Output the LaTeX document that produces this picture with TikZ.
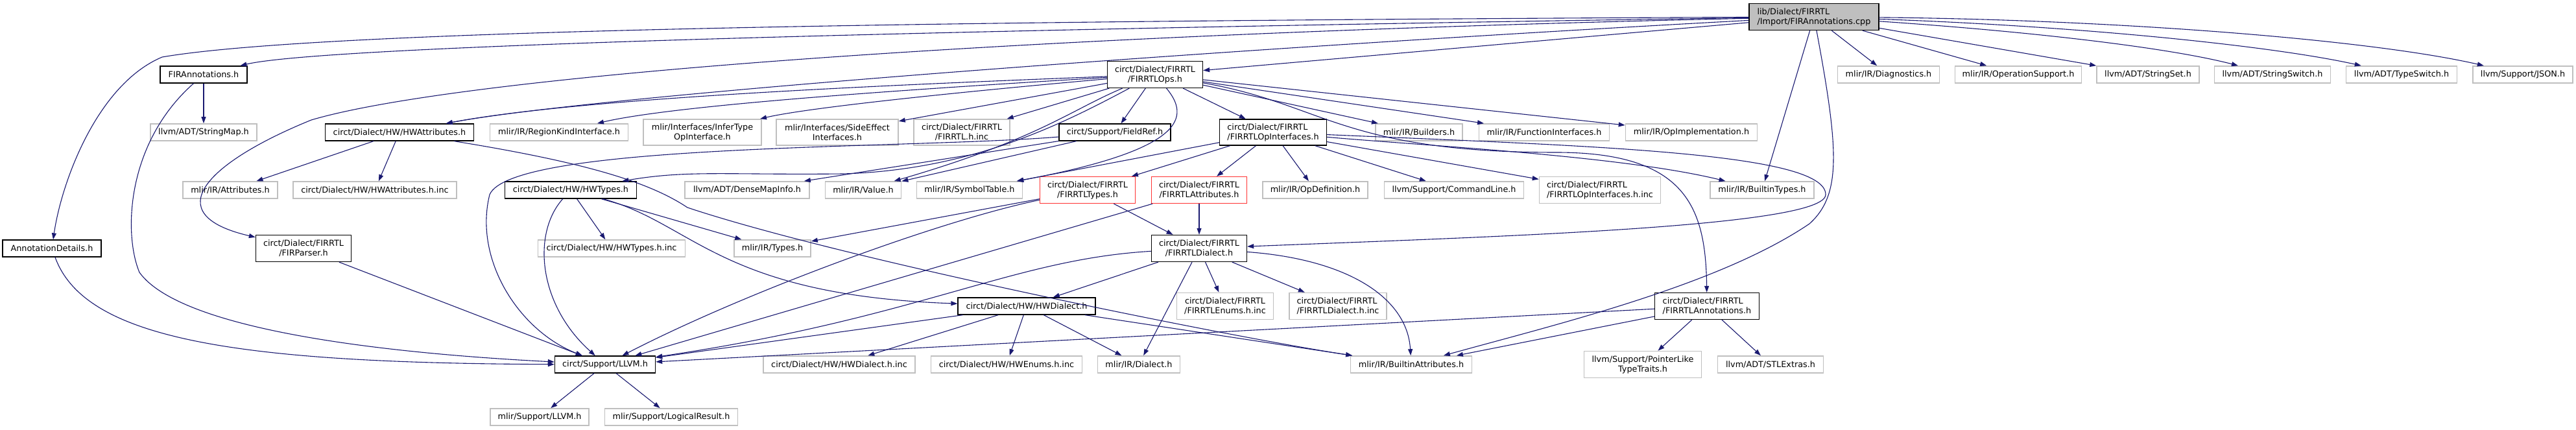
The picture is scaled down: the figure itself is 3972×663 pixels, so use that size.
\documentclass[tikz,border=0pt]{standalone}
\usepackage{fontspec}
\newfontfamily\graphfont{DejaVu Sans}
\usetikzlibrary{arrows.meta}
\definecolor{grey75}{HTML}{BFBFBF}
\definecolor{edgeblue}{HTML}{191970}
\definecolor{cutred}{HTML}{FF3333}

\begin{document}
\begin{tikzpicture}[x=1pt,y=-1pt,
  file/.style={rectangle,inner sep=0pt,minimum height=26,align=center,fill=white,
    line width=1.3pt,font=\graphfont\fontsize{12.8}{15}\selectfont},
  docfile/.style={file,draw=black},
  extfile/.style={file,draw=grey75,line width=1.6pt},
  cutfile/.style={file,draw=cutred},
  rootfile/.style={file,draw=black,fill=grey75,align=left},
  dep/.style={draw=edgeblue,line width=1.1pt,-{Triangle[length=10pt,width=7pt]}}]
\useasboundingbox (0,0) rectangle (3972,663);

% the file itself
\node[rootfile,minimum width=200,minimum height=41] (root) at (2797,26) {lib/Dialect/FIRRTL\\/Import/FIRAnnotations.cpp};

% first level
\node[docfile,minimum width=134] (firann) at (314,115) {FIRAnnotations.h};
\node[docfile,minimum width=147,minimum height=41] (firops) at (1781,115) {circt/Dialect/FIRRTL\\/FIRRTLOps.h};
\node[extfile,minimum width=157] (diag) at (2912,115) {mlir/IR/Diagnostics.h};
\node[extfile,minimum width=195] (opsupport) at (3112,115) {mlir/IR/OperationSupport.h};
\node[extfile,minimum width=158] (strset) at (3312,115) {llvm/ADT/StringSet.h};
\node[extfile,minimum width=179] (strswitch) at (3504,115) {llvm/ADT/StringSwitch.h};
\node[extfile,minimum width=171] (typeswitch) at (3703,115) {llvm/ADT/TypeSwitch.h};
\node[extfile,minimum width=154] (json) at (3890,115) {llvm/Support/JSON.h};

% second level
\node[extfile,minimum width=164] (strmap) at (314,204) {llvm/ADT/StringMap.h};
\node[docfile,minimum width=229] (hwattr) at (616,204) {circt/Dialect/HW/HWAttributes.h};
\node[extfile,minimum width=213] (regkind) at (862,204) {mlir/IR/RegionKindInterface.h};
\node[extfile,minimum width=182,minimum height=40] (infertype) at (1083,204) {mlir/Interfaces/InferType\\OpInterface.h};
\node[extfile,minimum width=188,minimum height=40] (sideeffect) at (1291,204) {mlir/Interfaces/SideEffect\\Interfaces.h};
\node[extfile,minimum width=148,minimum height=40] (firrtlinc) at (1483,204) {circt/Dialect/FIRRTL\\/FIRRTL.h.inc};
\node[docfile,minimum width=172] (fieldref) at (1719,204) {circt/Support/FieldRef.h};
\node[docfile,minimum width=165,minimum height=40,align=left] (opif) at (1963,204) {circt/Dialect/FIRRTL\\/FIRRTLOpInterfaces.h};
\node[extfile,minimum width=134] (builders) at (2188,204) {mlir/IR/Builders.h};
\node[extfile,minimum width=201] (funcif) at (2381,204) {mlir/IR/FunctionInterfaces.h};
\node[extfile,minimum width=203] (opimpl) at (2608,204) {mlir/IR/OpImplementation.h};

% third level
\node[extfile,minimum width=146] (attrs) at (355,293) {mlir/IR/Attributes.h};
\node[extfile,minimum width=252] (hwattrinc) at (578,293) {circt/Dialect/HW/HWAttributes.h.inc};
\node[docfile,minimum width=203] (hwtypes) at (880,293) {circt/Dialect/HW/HWTypes.h};
\node[extfile,minimum width=192] (densemap) at (1152,293) {llvm/ADT/DenseMapInfo.h};
\node[extfile,minimum width=117] (value) at (1331,293) {mlir/IR/Value.h};
\node[extfile,minimum width=163] (symtab) at (1495,293) {mlir/IR/SymbolTable.h};
\node[cutfile,minimum width=147,minimum height=41] (firtypes) at (1677,293) {circt/Dialect/FIRRTL\\/FIRRTLTypes.h};
\node[cutfile,minimum width=147,minimum height=41] (firattrs) at (1849,293) {circt/Dialect/FIRRTL\\/FIRRTLAttributes.h};
\node[extfile,minimum width=162] (opdef) at (2028,293) {mlir/IR/OpDefinition.h};
\node[extfile,minimum width=215] (cmdline) at (2242,293) {llvm/Support/CommandLine.h};
\node[extfile,minimum width=187,minimum height=41,align=left] (opifinc) at (2467,293) {circt/Dialect/FIRRTL\\/FIRRTLOpInterfaces.h.inc};
\node[extfile,minimum width=160] (builtintypes) at (2717,293) {mlir/IR/BuiltinTypes.h};

% fourth level
\node[docfile,minimum width=152] (anndetails) at (80,383) {AnnotationDetails.h};
\node[docfile,minimum width=147,minimum height=41] (firparser) at (468,383) {circt/Dialect/FIRRTL\\/FIRParser.h};
\node[extfile,minimum width=227] (hwtypesinc) at (943,383) {circt/Dialect/HW/HWTypes.h.inc};
\node[extfile,minimum width=118] (types) at (1191,383) {mlir/IR/Types.h};
\node[docfile,minimum width=147,minimum height=41] (firdialect) at (1849,383) {circt/Dialect/FIRRTL\\/FIRRTLDialect.h};

% fifth level
\node[docfile,minimum width=212] (hwdialect) at (1583,472) {circt/Dialect/HW/HWDialect.h};
\node[extfile,minimum width=149,minimum height=41] (enumsinc) at (1889,472) {circt/Dialect/FIRRTL\\/FIRRTLEnums.h.inc};
\node[extfile,minimum width=150,minimum height=41,align=left] (dialectinc) at (2063,472) {circt/Dialect/FIRRTL\\/FIRRTLDialect.h.inc};
\node[docfile,minimum width=161,minimum height=41,align=left] (firrtlann) at (2632,472) {circt/Dialect/FIRRTL\\/FIRRTLAnnotations.h};

% sixth level
\node[docfile,minimum width=155] (llvm) at (933,562) {circt/Support/LLVM.h};
\node[extfile,minimum width=234] (hwdialectinc) at (1294,562) {circt/Dialect/HW/HWDialect.h.inc};
\node[extfile,minimum width=233] (hwenumsinc) at (1552,562) {circt/Dialect/HW/HWEnums.h.inc};
\node[extfile,minimum width=127] (dialect) at (1756,562) {mlir/IR/Dialect.h};
\node[extfile,minimum width=187] (builtinattrs) at (2176,562) {mlir/IR/BuiltinAttributes.h};
\node[extfile,minimum width=181,minimum height=41] (ptrlike) at (2533,562) {llvm/Support/PointerLike\\TypeTraits.h};
\node[extfile,minimum width=163] (stlextras) at (2730,562) {llvm/ADT/STLExtras.h};

% last level
\node[extfile,minimum width=152] (mlirllvm) at (832,643) {mlir/Support/LLVM.h};
\node[extfile,minimum width=205] (logicalresult) at (1035,643) {mlir/Support/LogicalResult.h};

% includes of the file itself
\draw[dep] (root) .. controls (1500,32) and (500,45) .. (250,88) .. controls (150,130) and (95,280) .. (anndetails);
\draw[dep] (root) .. controls (1500,45) and (500,70) .. (firann);
\draw[dep] (root) .. controls (1500,55) and (700,120) .. (480,185) .. controls (320,250) and (240,330) .. (firparser);
\draw[dep] (root) .. controls (1800,80) and (900,150) .. (hwattr);
\draw[dep] (root) -- (firops);
\draw[dep] (root) -- (diag);
\draw[dep] (root) -- (opsupport);
\draw[dep] (root) -- (strset);
\draw[dep] (root) .. controls (3150,50) and (3350,75) .. (strswitch);
\draw[dep] (root) .. controls (3200,40) and (3500,70) .. (typeswitch);
\draw[dep] (root) .. controls (3250,30) and (3650,60) .. (json);
\draw[dep] (root) -- (builtintypes);
\draw[dep] (root) .. controls (2835,230) and (2840,300) .. (2790,345) .. controls (2650,440) and (2400,500) .. (builtinattrs);

% FIRRTLOps.h
\draw[dep] (firops) .. controls (1400,130) and (900,150) .. (hwattr);
\draw[dep] (firops) .. controls (1450,135) and (1050,160) .. (regkind);
\draw[dep] (firops) .. controls (1500,140) and (1250,165) .. (infertype);
\draw[dep] (firops) -- (sideeffect);
\draw[dep] (firops) -- (firrtlinc);
\draw[dep] (firops) -- (fieldref);
\draw[dep] (firops) -- (opif);
\draw[dep] (firops) -- (builders);
\draw[dep] (firops) -- (funcif);
\draw[dep] (firops) -- (opimpl);
\draw[dep] (firops) .. controls (1835,180) and (1830,230) .. (symtab);
\draw[dep] (firops) .. controls (1650,170) and (1600,215) .. (value);
\draw[dep] (firops) .. controls (1640,190) and (1500,262) .. (1300,268) .. controls (1120,270) and (1060,262) .. (hwtypes);
\draw[dep] (firops) .. controls (2040,160) and (2070,235) .. (2400,235) .. controls (2600,235) and (2630,320) .. (firrtlann);

% FIRRTLOpInterfaces.h
\draw[dep] (opif) -- (firtypes);
\draw[dep] (opif) -- (firattrs);
\draw[dep] (opif) -- (opdef);
\draw[dep] (opif) -- (cmdline);
\draw[dep] (opif) -- (opifinc);
\draw[dep] (opif) .. controls (2200,225) and (2500,240) .. (builtintypes);
\draw[dep] (opif) -- (symtab);
\draw[dep] (opif) .. controls (2450,225) and (2815,235) .. (2815,300) .. controls (2815,350) and (2300,365) .. (firdialect);

% FieldRef.h
\draw[dep] (fieldref) -- (densemap);
\draw[dep] (fieldref) -- (value);
\draw[dep] (fieldref) .. controls (1400,230) and (790,220) .. (755,300) .. controls (730,400) and (800,510) .. (llvm);

% HWAttributes.h and HWTypes.h
\draw[dep] (hwattr) -- (attrs);
\draw[dep] (hwattr) -- (hwattrinc);
\draw[dep] (hwattr) .. controls (900,250) and (1000,280) .. (1060,320) .. controls (1300,400) and (1900,520) .. (builtinattrs);
\draw[dep] (hwtypes) -- (hwtypesinc);
\draw[dep] (hwtypes) -- (types);
\draw[dep] (hwtypes) .. controls (820,360) and (830,470) .. (llvm);
\draw[dep] (hwtypes) .. controls (1070,345) and (1110,455) .. (hwdialect);

% FIRRTLTypes.h and FIRRTLAttributes.h
\draw[dep] (firtypes) -- (types);
\draw[dep] (firtypes) .. controls (1450,340) and (1150,450) .. (llvm);
\draw[dep] (firtypes) -- (firdialect);
\draw[dep] (firattrs) -- (firdialect);
\draw[dep] (firattrs) -- (llvm);

% FIRRTLDialect.h and HWDialect.h
\draw[dep] (firdialect) -- (hwdialect);
\draw[dep] (firdialect) -- (dialect);
\draw[dep] (firdialect) -- (enumsinc);
\draw[dep] (firdialect) -- (dialectinc);
\draw[dep] (firdialect) .. controls (2080,400) and (2170,460) .. (builtinattrs);
\draw[dep] (firdialect) .. controls (1560,400) and (1420,490) .. (llvm);
\draw[dep] (hwdialect) -- (hwdialectinc);
\draw[dep] (hwdialect) -- (hwenumsinc);
\draw[dep] (hwdialect) -- (dialect);
\draw[dep] (hwdialect) -- (builtinattrs);
\draw[dep] (hwdialect) -- (llvm);

% FIRRTLAnnotations.h
\draw[dep] (firrtlann) -- (llvm);
\draw[dep] (firrtlann) -- (builtinattrs);
\draw[dep] (firrtlann) -- (ptrlike);
\draw[dep] (firrtlann) -- (stlextras);

% the rest
\draw[dep] (firann) -- (strmap);
\draw[dep] (firann) .. controls (195,220) and (190,360) .. (215,420) .. controls (280,510) and (600,545) .. (llvm);
\draw[dep] (anndetails) .. controls (130,520) and (350,560) .. (llvm);
\draw[dep] (firparser) -- (llvm);
\draw[dep] (llvm) -- (mlirllvm);
\draw[dep] (llvm) -- (logicalresult);
\end{tikzpicture}
\end{document}
